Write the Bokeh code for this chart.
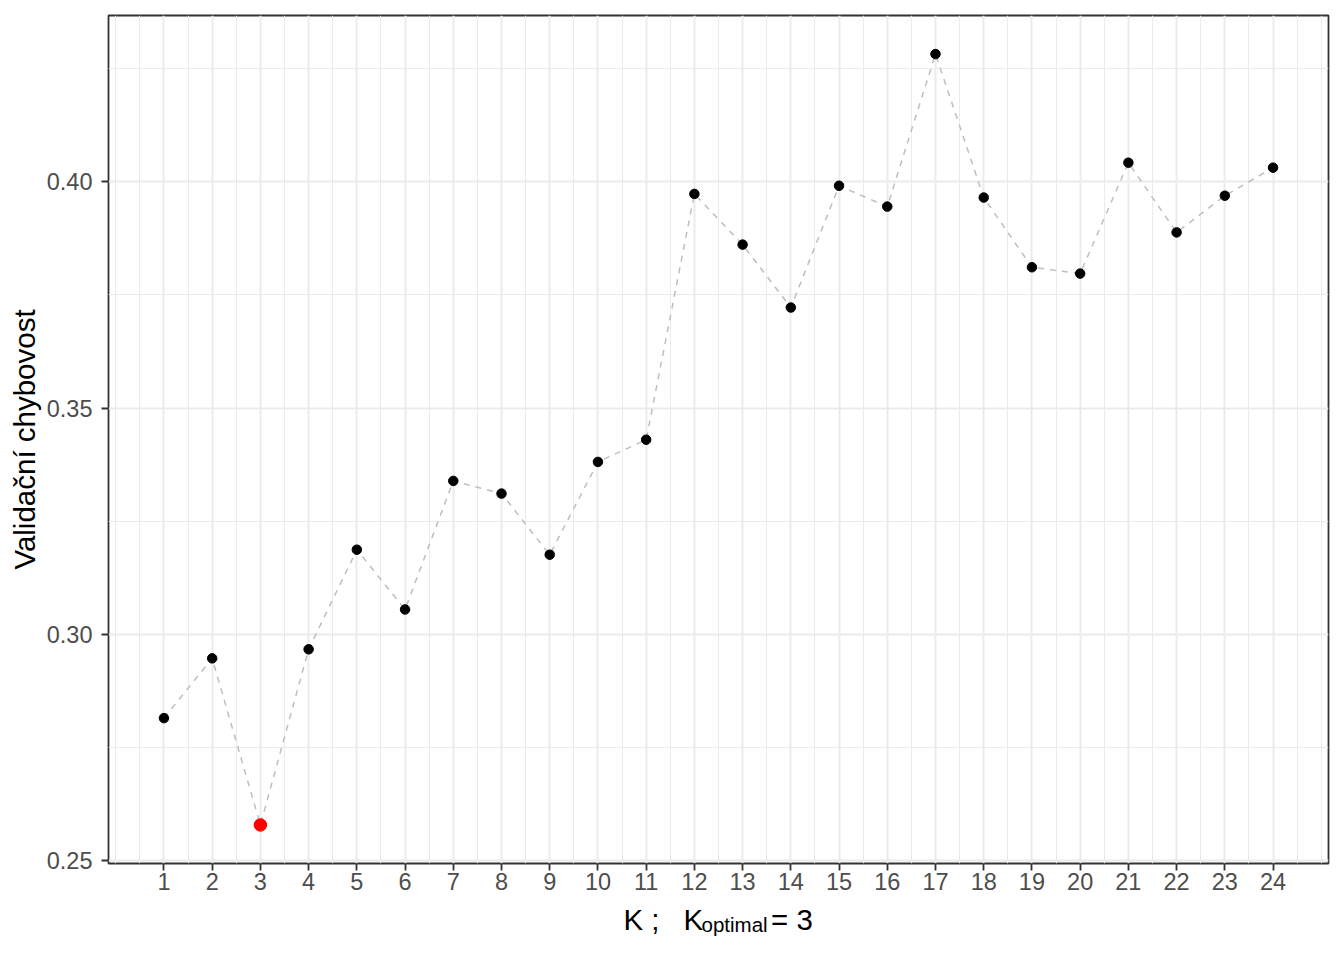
import numpy as np
from bokeh.plotting import figure
from bokeh.layouts import column
from bokeh.models import Range1d, FixedTicker, ColumnDataSource
from bokeh.core.properties import value
from bokeh.embed import file_html
from bokeh.resources import INLINE

# ---- data ----
k_values = list(range(1, 25))
val_error = [0.2815, 0.2947, 0.2579, 0.2967, 0.3187, 0.3055, 0.3339, 0.3311,
             0.3176, 0.3381, 0.3430, 0.3973, 0.3861, 0.3722, 0.3991, 0.3945,
             0.4282, 0.3965, 0.3811, 0.3797, 0.4042, 0.3888, 0.3969, 0.4031]
k_optimal = 3
y_ticks = [0.25, 0.30, 0.35, 0.40]
y_tick_labels = ["0.25", "0.30", "0.35", "0.40"]
y_minor = [0.275, 0.325, 0.375, 0.425]
x_minor = [0, 25] + [k + 0.5 for k in range(0, 25)]
x_title_main = ["K ;", "K", "= 3"]
x_title_sub = ["optimal"]
y_title = "Validační chybovost"

# ---- geometry ----
W = 1344
H_MAIN = 904
H_TITLE = 960 - H_MAIN
BL, BR, BT, BB = 108, 16, 15, H_MAIN - 863

xs = np.array(k_values, dtype=float)
ys = np.array(val_error)
xspan = xs.max() - xs.min()
yspan = ys.max() - ys.min()
x0, x1 = xs.min() - 0.05 * xspan, xs.max() + 0.05 * xspan
y0, y1 = ys.min() - 0.05 * yspan, ys.max() + 0.05 * yspan

FONT = "Liberation Sans"

p = figure(width=W, height=H_MAIN, output_backend="svg", toolbar_location=None,
           x_range=Range1d(x0, x1), y_range=Range1d(y0, y1),
           min_border_left=BL, min_border_right=BR,
           min_border_top=BT, min_border_bottom=BB)
p.background_fill_color = "white"
p.border_fill_color = "white"
p.outline_line_color = "#333333"
p.outline_line_width = 1.8

p.xaxis.ticker = FixedTicker(ticks=k_values, minor_ticks=x_minor)
p.yaxis.ticker = FixedTicker(ticks=y_ticks, minor_ticks=y_minor)
p.yaxis.major_label_overrides = {t: l for t, l in zip(y_ticks, y_tick_labels)}

for ax in (p.xaxis[0], p.yaxis[0]):
    ax.axis_line_color = None
    ax.major_tick_line_color = "#333333"
    ax.major_tick_line_width = 1.8
    ax.major_tick_in = 0
    ax.major_tick_out = 7
    ax.minor_tick_line_color = None
    ax.major_label_text_font = FONT
    ax.major_label_text_font_size = "23.5px"
    ax.major_label_text_color = "#4D4D4D"
p.xaxis.major_label_standoff = 2
p.yaxis.major_label_standoff = 9

p.yaxis.axis_label = y_title
p.yaxis.axis_label_text_font = FONT
p.yaxis.axis_label_text_font_size = "29.5px"
p.yaxis.axis_label_text_font_style = "normal"
p.yaxis.axis_label_text_color = "black"
p.yaxis.axis_label_standoff = 3

for g in (p.xgrid[0], p.ygrid[0]):
    g.grid_line_color = "#EBEBEB"
    g.grid_line_width = 2
    g.minor_grid_line_color = "#EBEBEB"
    g.minor_grid_line_width = 1

src = ColumnDataSource(dict(k=k_values, err=val_error))
p.line("k", "err", source=src, line_color="#BEBEBE", line_width=1.5, line_dash="6 6")
p.scatter("k", "err", source=src, size=9.5, color="black")
opt_idx = k_values.index(k_optimal)
p.scatter([k_values[opt_idx]], [val_error[opt_idx]], size=12.5, color="red")

# ---- x-axis title strip (page pixel coordinates) ----
t = figure(width=W, height=H_TITLE, output_backend="svg", toolbar_location=None,
           x_range=Range1d(BL, W - BR), y_range=Range1d(960, H_MAIN),
           x_axis_type=None, y_axis_type=None,
           min_border_left=BL, min_border_right=BR, min_border_top=0, min_border_bottom=0)
t.grid.visible = False
t.outline_line_color = None
t.background_fill_color = "white"
t.border_fill_color = "white"
t.text(x=[623, 683, 770.5], y=[919, 919, 919], text=x_title_main,
       text_font=value(FONT), text_font_size=value("29.5px"), text_color="black",
       text_baseline="alphabetic", text_align="left")
t.text(x=[701], y=[923.5], text=x_title_sub,
       text_font=value(FONT), text_font_size=value("20.5px"), text_color="black",
       text_baseline="alphabetic", text_align="left")

layout = column(p, t, spacing=0)
open("out.html", "w").write(file_html(layout, INLINE))
